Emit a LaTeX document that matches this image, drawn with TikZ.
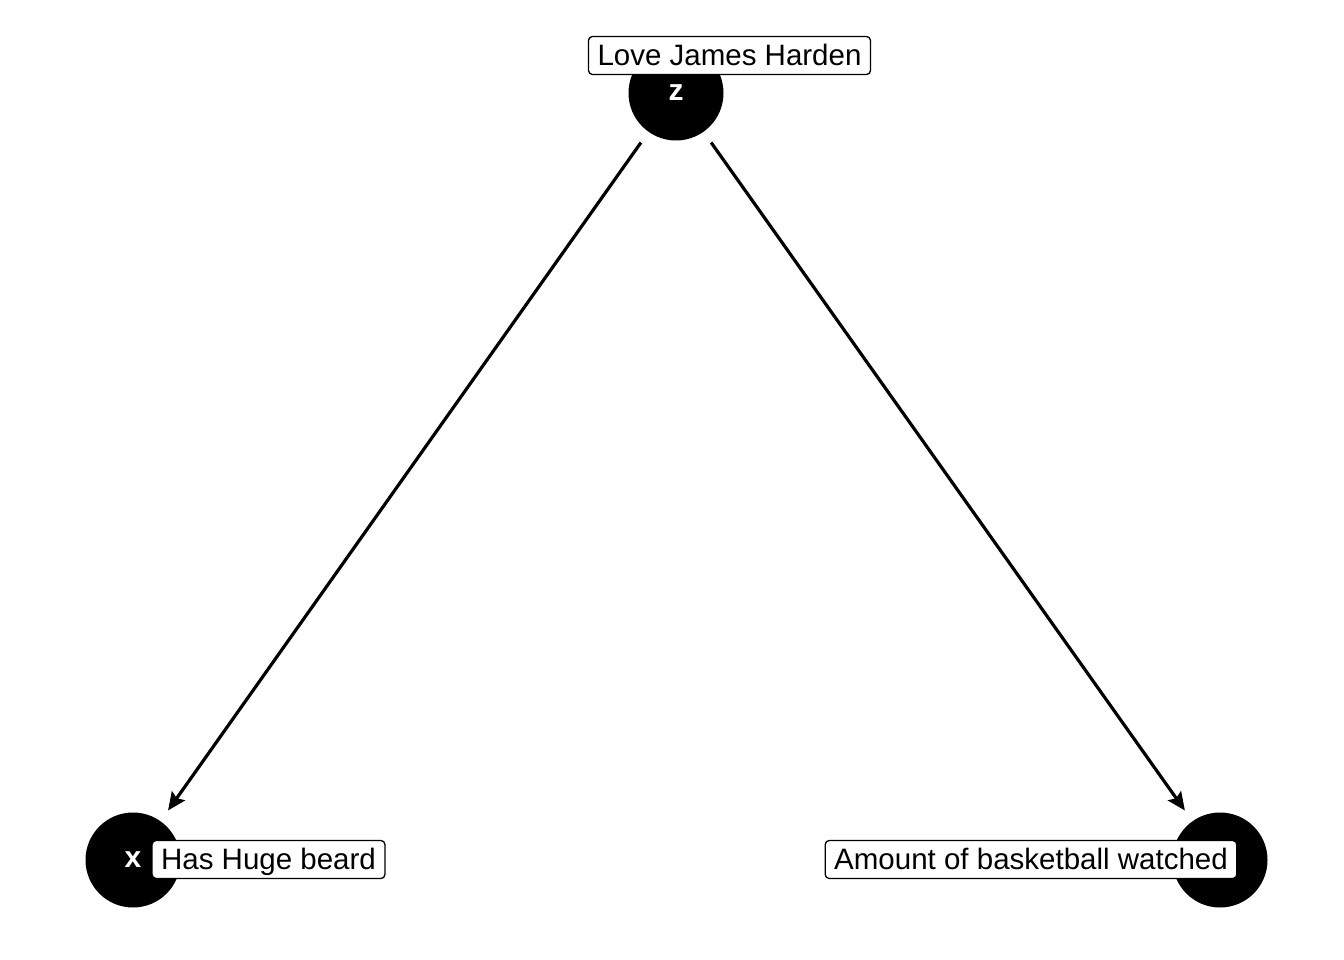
\documentclass[tikz,border=0pt]{standalone}
\usepackage{fontspec}
\setmainfont{Liberation Sans}
\usetikzlibrary{arrows.meta}
\begin{document}
\begin{tikzpicture}[x=1pt,y=-1pt,
  dagnode/.style={circle,fill=black,minimum size=95pt,inner sep=0pt,text=white,font=\fontsize{30}{34}\selectfont\bfseries},
  daglabel/.style={draw=black,fill=white,rounded corners=4pt,line width=1.3pt,inner xsep=9pt,inner ysep=0pt,font=\fontsize{29.5}{34}\selectfont,text height=24pt,text depth=4pt,minimum height=38pt},
  edge/.style={line width=3.2pt,-{Stealth[length=18pt,width=16pt,inset=3pt]},shorten >=13pt,shorten <=13pt}]
\useasboundingbox (0,0) rectangle (1344,960);
\node[dagnode] (z) at (676,93) {z};
\node[dagnode] (x) at (133,860) {x};
\node[dagnode] (y) at (1220,860) {};
\draw[edge] (z) -- (x);
\draw[edge] (z) -- (y);
\node[daglabel] (lz) at (729.5,55.5) {Love James Harden};
\node[daglabel] (lx) at (268.5,859.5) {Has Huge beard};
\node[daglabel] (ly) at (1031,859.5) {Amount of basketball watched};
\end{tikzpicture}
\end{document}
